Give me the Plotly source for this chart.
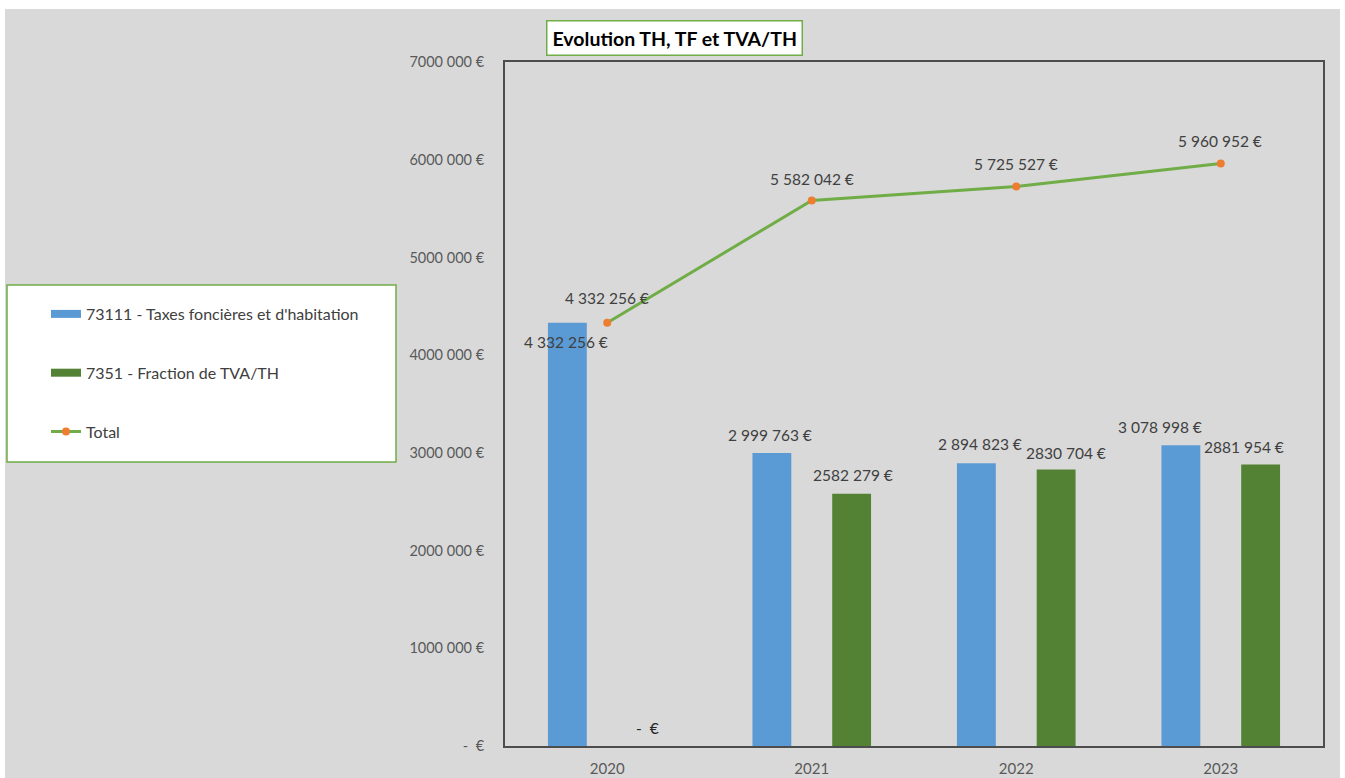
import plotly.graph_objects as go

# ---- data -------------------------------------------------------------
years = ["2020", "2021", "2022", "2023"]
taxes_foncieres = [4332256, 2999763, 2894823, 3078998]   # 73111
fraction_tva = [0, 2582279, 2830704, 2881954]              # 7351
total = [4332256, 5582042, 5725527, 5960952]

y_ticks = [0, 1000000, 2000000, 3000000, 4000000, 5000000, 6000000, 7000000]

# ---- styling ------------------------------------------------------------
BLUE = "#5b9bd5"
GREEN_BAR = "#548235"
GREEN_LINE = "#70ad47"
ORANGE = "#ed7d31"
BG = "#d9d9d9"
AXIS_TXT = "#595959"
LABEL_TXT = "#404040"
FONT = "Lato"
FS = 14.5
FS_LAB = 15.5

W, H = 1345, 778
ML, MR, MT, MB = 505, 22, 62, 32
PW, PH = W - ML - MR, H - MT - MB


def px_x(px):
    return (px - ML) / PW


def px_y(py):
    return 1 - (py - MT) / PH


def eur(v, space_millions=True):
    """French-style euro amount; zero shown as an accounting dash."""
    if v == 0:
        return "-  €"
    s = f"{v:,}".replace(",", " ")
    if not space_millions and v >= 1_000_000:
        s = s.replace(" ", "", 1)
    return s + " €"


fig = go.Figure()

# bars (explicit offsets inside each category)
fig.add_trace(go.Bar(
    x=years, y=taxes_foncieres, name="73111 - Taxes foncières et d'habitation",
    marker=dict(color=BLUE, line=dict(width=0)),
    width=0.19, offset=-0.29, showlegend=False,
))
fig.add_trace(go.Bar(
    x=years, y=fraction_tva, name="7351 - Fraction de TVA/TH",
    marker=dict(color=GREEN_BAR, line=dict(width=0)),
    width=0.19, offset=0.10, showlegend=False,
))
# total line
fig.add_trace(go.Scatter(
    x=years, y=total, name="Total", mode="lines+markers",
    line=dict(color=GREEN_LINE, width=3),
    marker=dict(color=ORANGE, size=8, line=dict(color=ORANGE, width=0)),
    showlegend=False,
))

# legend entries (wide swatches for the bar series)
fig.add_trace(go.Scatter(
    x=[None], y=[None], mode="lines", name="73111 - Taxes foncières et d'habitation",
    line=dict(color=BLUE, width=8), legendgroup="a",
))
fig.add_trace(go.Scatter(
    x=[None], y=[None], mode="lines", name="7351 - Fraction de TVA/TH",
    line=dict(color=GREEN_BAR, width=8), legendgroup="b",
))
fig.add_trace(go.Scatter(
    x=[None], y=[None], mode="lines+markers", name="Total",
    line=dict(color=GREEN_LINE, width=3),
    marker=dict(color=ORANGE, size=8), legendgroup="c",
))

# ---- data labels ---------------------------------------------------------
lab_font = dict(family=FONT, size=FS_LAB, color=LABEL_TXT)
zero_font = dict(family=FONT, size=FS_LAB, color="#262626")
blue_shift = [(-1, -19), (-2, 18), (4, 19), (-21, 18)]
green_shift = [(0, 18), (1, 19), (10, 16), (-17, 17)]
total_shift = [(0, 25), (0, 22), (0, 23), (-1, 23)]
cat_px = PW / len(years)

for i in range(len(years)):
    # blue bar centre sits 0.195 category left of the tick, green 0.195 right
    dx, dy = blue_shift[i]
    fig.add_annotation(x=i, y=taxes_foncieres[i], text=eur(taxes_foncieres[i]),
                       showarrow=False, font=lab_font,
                       xanchor="center", yanchor="middle",
                       xshift=-0.195 * cat_px + dx, yshift=dy)
    dx, dy = green_shift[i]
    fig.add_annotation(x=i, y=fraction_tva[i], text=eur(fraction_tva[i], False),
                       showarrow=False,
                       font=zero_font if fraction_tva[i] == 0 else lab_font,
                       xanchor="center", yanchor="middle",
                       xshift=0.195 * cat_px + dx, yshift=dy)
    dx, dy = total_shift[i]
    fig.add_annotation(x=i, y=total[i], text=eur(total[i]),
                       showarrow=False, font=lab_font,
                       xanchor="center", yanchor="middle",
                       xshift=dx, yshift=dy)

# title box
fig.add_annotation(
    xref="paper", yref="paper", x=px_x(674.5), y=px_y(38.5),
    xanchor="center", yanchor="middle",
    text="<b>Evolution TH, TF et TVA/TH</b>", showarrow=False,
    font=dict(family=FONT, size=19.5, color="#000000"),
    bgcolor="white", bordercolor=GREEN_LINE, borderwidth=1.5, borderpad=5,
)

# background panel and legend frame
fig.add_shape(type="rect", xref="paper", yref="paper", layer="below",
              x0=px_x(5), x1=px_x(1340), y0=px_y(H + 5), y1=px_y(9),
              fillcolor=BG, line=dict(width=0))
fig.add_shape(type="rect", xref="paper", yref="paper", layer="below",
              x0=px_x(7), x1=px_x(396), y0=px_y(462), y1=px_y(285),
              fillcolor="white", line=dict(color=GREEN_LINE, width=1.5))

fig.update_layout(
    width=W, height=H,
    margin=dict(l=ML, r=MR, t=MT, b=MB, autoexpand=False),
    paper_bgcolor="white", plot_bgcolor=BG,
    barmode="overlay",
    font=dict(family=FONT, size=FS, color=AXIS_TXT),
    legend=dict(
        x=px_x(46), y=px_y(297), xanchor="left", yanchor="top",
        bgcolor="rgba(0,0,0,0)", borderwidth=0,
        font=dict(family=FONT, size=16, color=LABEL_TXT),
        tracegroupgap=35, traceorder="grouped",
    ),
    xaxis=dict(
        type="category", showgrid=False, zeroline=False,
        showline=True, mirror=True, linecolor="#4d4d4d", linewidth=2,
        ticks="", tickfont=dict(family=FONT, size=15, color=AXIS_TXT),
        ticklabelstandoff=8, automargin=False,
        range=[-0.5, 3.5],
    ),
    yaxis=dict(
        range=[0, 7000000], showgrid=False, zeroline=False,
        showline=True, mirror=True, linecolor="#4d4d4d", linewidth=2,
        ticks="", tickvals=y_ticks,
        ticktext=[eur(v, False) for v in y_ticks],
        tickfont=dict(family=FONT, size=FS, color=AXIS_TXT),
        ticklabelstandoff=16, automargin=False,
    ),
)

fig.write_html("out.html")
